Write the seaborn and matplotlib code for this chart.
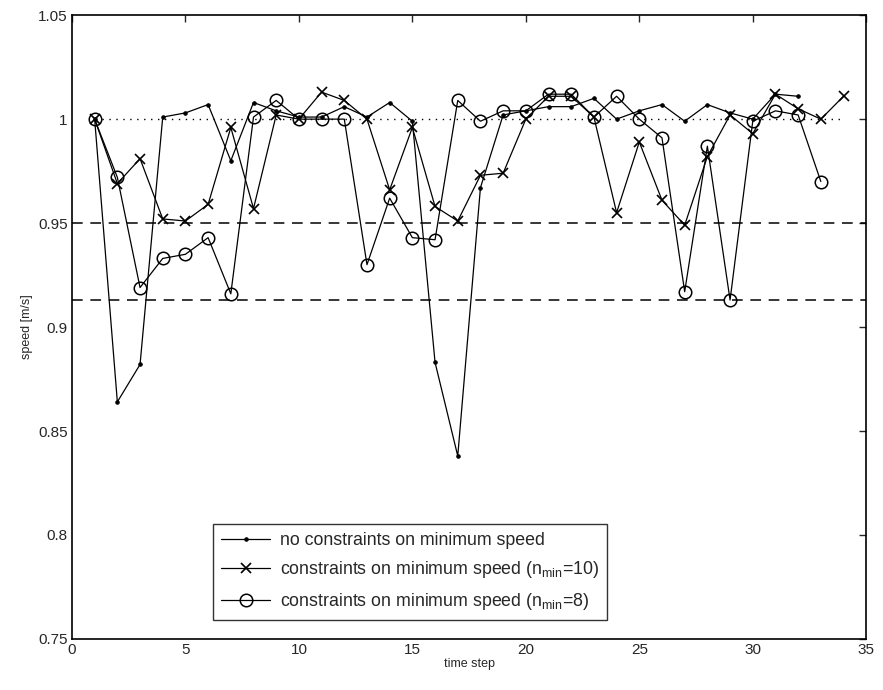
import numpy as np
import pandas as pd
import matplotlib
matplotlib.use("Agg")
import matplotlib.pyplot as plt
import seaborn as sns

# data
steps_a = list(range(1, 33))
speed_a = [1.000, 0.864, 0.882, 1.001, 1.003, 1.007, 0.980, 1.008, 1.004, 1.001,
           1.001, 1.006, 1.001, 1.008, 0.999, 0.883, 0.838, 0.967, 1.002, 1.004,
           1.006, 1.006, 1.010, 1.000, 1.004, 1.007, 0.999, 1.007, 1.003, 1.000,
           1.012, 1.011]

steps_b = list(range(1, 35))
speed_b = [1.000, 0.969, 0.981, 0.952, 0.951, 0.959, 0.996, 0.957, 1.002, 1.000,
           1.013, 1.009, 1.000, 0.966, 0.996, 0.958, 0.951, 0.973, 0.974, 1.000,
           1.011, 1.011, 1.001, 0.955, 0.989, 0.961, 0.949, 0.982, 1.002, 0.993,
           1.012, 1.005, 1.000, 1.011]

steps_c = list(range(1, 34))
speed_c = [1.000, 0.972, 0.919, 0.933, 0.935, 0.943, 0.916, 1.001, 1.009, 1.000,
           1.000, 1.000, 0.930, 0.962, 0.943, 0.942, 1.009, 0.999, 1.004, 1.004,
           1.012, 1.012, 1.001, 1.011, 1.000, 0.991, 0.917, 0.987, 0.913, 0.999,
           1.004, 1.002, 0.970]

labels = ["no constraints on minimum speed",
          r"constraints on minimum speed (n$_{\rm min}$=10)",
          r"constraints on minimum speed (n$_{\rm min}$=8)"]

ref_level = 1.0
dash_levels = [0.95, 0.913]

sns.set_style("white")
plt.rcParams['font.family'] = ['Liberation Sans', 'DejaVu Sans']
plt.rcParams['mathtext.fontset'] = 'custom'
plt.rcParams['mathtext.rm'] = 'Liberation Sans'
plt.rcParams['mathtext.it'] = 'Liberation Sans'

fig = plt.figure(figsize=(8.83, 6.9), dpi=100)
ax = fig.add_axes([0.0815, 0.074, 0.8995, 0.904])

# reference lines
ax.plot([steps_b[0], steps_b[-1]], [ref_level, ref_level], color='black',
        linestyle=(0, (1, 4)), linewidth=1.0)
for lv in dash_levels:
    ax.axhline(lv, color='black', linestyle=(0, (7, 5)), linewidth=1.1)

sns.lineplot(x=steps_a, y=speed_a, ax=ax, color='black', linewidth=0.9,
             marker='.', markersize=5, markeredgecolor='black',
             markerfacecolor='black', label=labels[0])
sns.lineplot(x=steps_b, y=speed_b, ax=ax, color='black', linewidth=0.9,
             marker='x', markersize=6.5, markeredgewidth=1.2,
             markeredgecolor='black', label=labels[1])
sns.lineplot(x=steps_c, y=speed_c, ax=ax, color='black', linewidth=0.9,
             marker='o', markersize=9, markerfacecolor='none',
             markeredgecolor='black', markeredgewidth=1.1, label=labels[2])

ax.set_xlim(0, 35)
ax.set_ylim(0.75, 1.05)
ax.set_xticks(np.arange(0, 36, 5))
ax.set_yticks(np.arange(0.75, 1.051, 0.05))
ax.set_yticklabels(["0.75", "0.8", "0.85", "0.9", "0.95", "1", "1.05"])
ax.tick_params(direction='in', length=5, width=1, top=True, right=True,
               labelsize=11, pad=3)
for s in ax.spines.values():
    s.set_color('black')
    s.set_linewidth(1.2)

ax.set_xlabel("time step", fontsize=9, labelpad=1)
ax.set_ylabel("speed [m/s]", fontsize=9, labelpad=4)

leg = ax.legend(loc='lower left', bbox_to_anchor=(0.166, 0.016), fontsize=12.8,
                frameon=True, fancybox=False, edgecolor='black',
                handlelength=2.8, borderpad=0.45, labelspacing=0.6,
                handletextpad=0.55)
leg.get_frame().set_linewidth(1.0)

fig.savefig("out.png", dpi=100)
